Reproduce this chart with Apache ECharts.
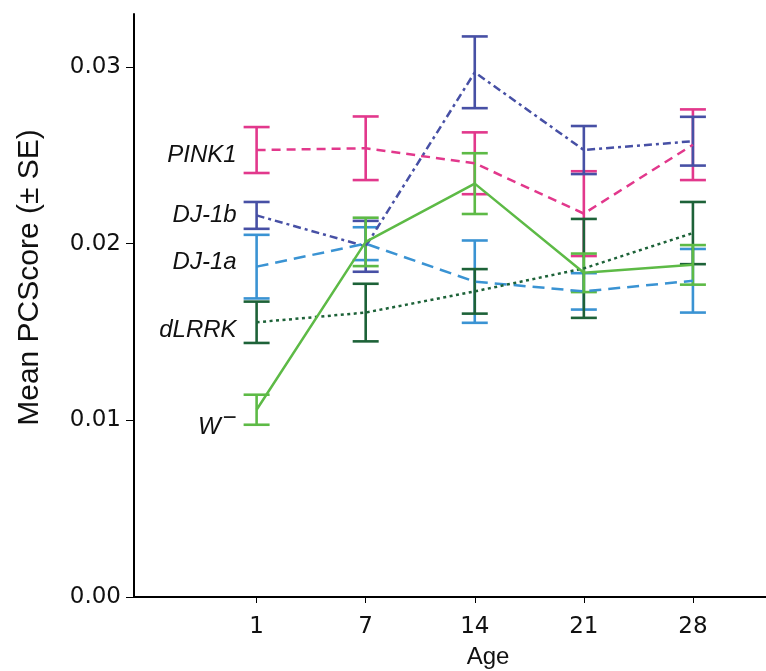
<!DOCTYPE html>
<html>
<head>
<meta charset="utf-8">
<script src="https://cdn.jsdelivr.net/npm/echarts@6/dist/echarts.min.js"></script>
<style>
  html, body { margin: 0; padding: 0; background: #fff; }
  #chart { width: 766px; height: 671px; }
</style>
</head>
<body>
<div id="chart"></div>
<script>
// ages (days) on the x axis
const ages = ['1', '7', '14', '21', '28'];
const yTicks = [0, 0.01, 0.02, 0.03];

// mean PCScore and SE per genotype
const pink1Mean = [0.0253, 0.0254, 0.02455, 0.0217, 0.0256];
const pink1SE   = [0.0013, 0.0018, 0.00175, 0.0024, 0.0020];
const dj1bMean  = [0.0216, 0.01985, 0.0297, 0.0253, 0.0258];
const dj1bSE    = [0.00076, 0.00144, 0.00203, 0.00136, 0.00138];
const dj1aMean  = [0.0187, 0.0200, 0.01785, 0.0173, 0.0179];
const dj1aSE    = [0.0018, 0.00093, 0.00233, 0.00103, 0.0018];
const dlrrkMean = [0.01555, 0.0161, 0.0173, 0.0186, 0.0206];
const dlrrkSE   = [0.00117, 0.00163, 0.00126, 0.0028, 0.00176];
const wMean     = [0.0106, 0.0201, 0.0234, 0.01835, 0.0188];
const wSE       = [0.00085, 0.00137, 0.00172, 0.00109, 0.00112];

const chart = echarts.init(document.getElementById('chart'));

function lineSeries(name, means, color, dash, dy, labelText) {
  return {
    type: 'line',
    name: name,
    data: means.map(function (m, i) {
      if (i > 0) return [i, m];
      return {
        value: [i, m],
        label: {
          show: true,
          position: 'left',
          distance: 20,
          offset: [0, dy],
          formatter: labelText,
          fontFamily: 'Liberation Sans',
          fontStyle: 'italic',
          fontSize: 24,
          color: '#111',
          rich: {
            w: { fontFamily: 'Liberation Sans', fontStyle: 'italic', fontSize: 24, color: '#111', lineHeight: 33, verticalAlign: 'bottom' },
            m: { fontFamily: 'Liberation Sans', fontSize: 24, color: '#111', lineHeight: 33, verticalAlign: 'top', padding: [0, 0, 0, 2] }
          }
        }
      };
    }),
    showSymbol: true,
    symbol: 'circle',
    symbolSize: 0,
    lineStyle: { color: color, width: 2.5, type: dash },
    itemStyle: { color: color },
    z: 3,
    silent: true
  };
}

function errorSeries(name, means, ses, color) {
  return {
    type: 'custom',
    name: name,
    data: means.map(function (m, i) { return [i, m - ses[i], m + ses[i]]; }),
    encode: { x: 0, y: [1, 2] },
    renderItem: function (params, api) {
      const lo = api.coord([api.value(0), api.value(1)]);
      const hi = api.coord([api.value(0), api.value(2)]);
      const w = 13;
      const style = { stroke: color, lineWidth: 2.6 };
      return {
        type: 'group',
        children: [
          { type: 'line', shape: { x1: lo[0], y1: lo[1], x2: hi[0], y2: hi[1] }, style: style },
          { type: 'line', shape: { x1: lo[0] - w, y1: lo[1], x2: lo[0] + w, y2: lo[1] }, style: style },
          { type: 'line', shape: { x1: hi[0] - w, y1: hi[1], x2: hi[0] + w, y2: hi[1] }, style: style }
        ]
      };
    },
    z: 2,
    silent: true
  };
}

const colors = {
  pink1: '#e2388c',
  dj1b: '#4750a5',
  dj1a: '#3a93d3',
  dlrrk: '#1d6238',
  w: '#5dba46'
};

const option = {
  animation: false,
  backgroundColor: '#fff',
  grid: { left: 134, right: 0, top: 14, bottom: 74, containLabel: false, outerBoundsMode: 'none' },
  xAxis: {
    type: 'value',
    min: -1.124,
    max: 4.67,
    name: 'Age',
    nameLocation: 'middle',
    nameGap: 48,
    nameTextStyle: { fontFamily: 'Liberation Sans', fontSize: 24, color: '#111', padding: [0, 0, 0, 76] },
    axisLine: { show: true, onZero: false, lineStyle: { color: '#000', width: 2 } },
    axisTick: { show: true, customValues: [0, 1, 2, 3, 4], length: 6, lineStyle: { color: '#000', width: 1 } },
    axisLabel: {
      customValues: [0, 1, 2, 3, 4],
      formatter: function (v) { return ages[Math.round(v)]; },
      fontFamily: 'DejaVu Sans', fontSize: 23, color: '#111', margin: 19
    },
    splitLine: { show: false }
  },
  yAxis: {
    type: 'value',
    min: 0,
    max: 0.033,
    name: 'Mean PCScore (± SE)',
    nameLocation: 'middle',
    nameGap: 89,
    nameTextStyle: { fontFamily: 'Liberation Sans', fontSize: 30, color: '#111', padding: [0, 0, 0, 56] },
    axisLine: { show: true, onZero: false, lineStyle: { color: '#000', width: 2 } },
    axisTick: { show: true, customValues: yTicks, length: 8, lineStyle: { color: '#000', width: 1 } },
    axisLabel: {
      customValues: yTicks,
      formatter: function (v) { return v.toFixed(2); },
      fontFamily: 'DejaVu Sans', fontSize: 23, color: '#111', margin: 13
    },
    splitLine: { show: false }
  },
  series: [
    errorSeries('PINK1', pink1Mean, pink1SE, colors.pink1),
    errorSeries('DJ-1b', dj1bMean, dj1bSE, colors.dj1b),
    errorSeries('DJ-1a', dj1aMean, dj1aSE, colors.dj1a),
    errorSeries('dLRRK', dlrrkMean, dlrrkSE, colors.dlrrk),
    errorSeries('W-', wMean, wSE, colors.w),
    lineSeries('PINK1', pink1Mean, colors.pink1, [9, 6], 5, 'PINK1'),
    lineSeries('DJ-1b', dj1bMean, colors.dj1b, [8, 4, 3, 4], 0, 'DJ-1b'),
    lineSeries('DJ-1a', dj1aMean, colors.dj1a, [12, 7], -4, 'DJ-1a'),
    lineSeries('dLRRK', dlrrkMean, colors.dlrrk, [3, 3.5], 8, 'dLRRK'),
    lineSeries('W-', wMean, colors.w, 'solid', 13, '{w|W}{m|\u2212}')
  ]
};

chart.setOption(option);
window.addEventListener('resize', function () { chart.resize(); });
</script>
</body>
</html>
